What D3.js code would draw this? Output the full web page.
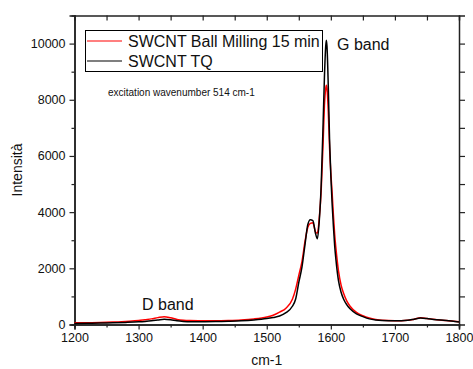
<!DOCTYPE html>
<html>
<head>
<meta charset="utf-8">
<script src="https://cdn.jsdelivr.net/npm/d3@7"></script>
<style>
  body { margin: 0; background: #fff; }
  svg { display: block; font-family: "Liberation Sans", Arial, sans-serif; }
</style>
</head>
<body>
<svg id="chart" width="473" height="369"></svg>
<script>
var W = 473, H = 369
var margin = {left: 74.5, right: 14, top: 15.5, bottom: 44.5}

// wavenumber grid (cm-1)
var wavenumber = [1200,1220,1240,1260,1280,1300,1310,1320,1330,1340,1350,1360,1370,1380,1400,1420,1440,1460,1480,1500,
  1510,1520,1530,1540,1545,1550,1555,1560,1564,1568,1572,1576,1579,1582,1585,1588,1590,1592,1593,1594,1596,1598,
  1600,1602,1604,1606,1608,1612,1616,1620,1625,1630,1640,1650,1660,1670,1680,1700,1720,1730,1740,1750,1760,1780,1800]

// SWCNT TQ (black)
var tq = [40,45,50,60,75,95,110,130,160,190,170,130,110,100,100,105,115,130,160,210,
  250,300,420,650,900,1500,2050,2900,3550,3730,3700,3250,3050,3700,5000,7200,8800,9900,10120,9900,8500,6600,
  5300,4300,3500,2800,2300,1550,1150,900,700,560,380,280,200,160,140,130,150,190,230,210,180,140,90]

// SWCNT Ball Milling 15 min (red)
var ballMilling = [60,65,70,85,110,140,170,200,245,280,240,180,150,140,135,130,140,160,200,270,
  330,440,580,900,1250,1750,2250,3000,3450,3600,3620,3300,3250,3800,4800,6500,7800,8400,8520,8400,7600,6300,
  5400,4700,3900,3200,2700,1900,1400,1100,830,650,430,310,230,180,150,135,155,190,240,215,185,140,95]

var xTicks = [1200,1300,1400,1500,1600,1700,1800]
var yTicks = [0,2000,4000,6000,8000,10000]

var svg = d3.select("#chart")
var x = d3.scaleLinear().domain([1200, 1800]).range([margin.left, W - margin.right])
var y = d3.scaleLinear().domain([0, 11000]).range([H - margin.bottom, margin.top])

var axisColor = "#222"

// bottom axis, major + minor outward
var bottom = svg.append("g").attr("transform", "translate(0," + y(0) + ")")
bottom.call(d3.axisBottom(x).tickValues(d3.range(1250, 1800, 100)).tickSize(3).tickFormat(""))
bottom.append("g").call(d3.axisBottom(x).tickValues(xTicks).tickSize(5).tickPadding(4).tickFormat(d3.format("d")))

// left axis
var left = svg.append("g").attr("transform", "translate(" + x(1200) + ",0)")
left.call(d3.axisLeft(y).tickValues(d3.range(1000, 11000, 2000)).tickSize(3).tickFormat(""))
left.append("g").call(d3.axisLeft(y).tickValues(yTicks).tickSize(5).tickPadding(4).tickFormat(d3.format("d")))

// top axis, ticks inward
svg.append("g").attr("transform", "translate(0," + y(11000) + ")")
  .call(d3.axisTop(x).tickValues(d3.range(1250, 1800, 50)).tickSize(-5).tickFormat(""))

// right axis, ticks outward
svg.append("g").attr("transform", "translate(" + x(1800) + ",0)")
  .call(d3.axisRight(y).tickValues(d3.range(1000, 11000, 1000)).tickSize(6).tickFormat(""))

svg.selectAll(".domain").attr("stroke", axisColor).attr("stroke-width", 1.5)
svg.selectAll(".tick line").attr("stroke", axisColor).attr("stroke-width", 1.2)
svg.selectAll(".tick text").attr("font-size", "12.5px").attr("fill", "#111")
  .attr("font-family", "Liberation Sans, Arial, sans-serif")

var line = d3.line()
  .x(function(d, i) { return x(wavenumber[i]) })
  .y(function(d) { return y(d) })
  .curve(d3.curveMonotoneX)

svg.append("path").datum(ballMilling)
  .attr("d", line).attr("fill", "none").attr("stroke", "#ff0000").attr("stroke-width", 1.5)
svg.append("path").datum(tq)
  .attr("d", line).attr("fill", "none").attr("stroke", "#000").attr("stroke-width", 1.5)

// legend
var legend = svg.append("g")
legend.append("rect").attr("x", 85.5).attr("y", 30.5).attr("width", 237).attr("height", 41)
  .attr("fill", "#fff").attr("stroke", "#000").attr("stroke-width", 1)
var legendItems = [{name: "SWCNT Ball Milling 15 min", color: "#ff0000"}, {name: "SWCNT TQ", color: "#000"}]
legend.selectAll("g.item").data(legendItems).enter().append("g").attr("class", "item")
  .each(function(d, i) {
    var g = d3.select(this)
    var yy = 41 + i * 20
    g.append("line").attr("x1", 87).attr("x2", 122).attr("y1", yy).attr("y2", yy)
      .attr("stroke", d.color).attr("stroke-width", 1.2)
    g.append("text").attr("x", 128).attr("y", yy + 5.5).attr("font-size", "16px").attr("fill", "#111").text(d.name)
  })

// annotations
svg.append("text").attr("x", 108).attr("y", 96).attr("font-size", "10px").attr("fill", "#111")
  .text("excitation wavenumber 514 cm-1")
svg.append("text").attr("x", 337).attr("y", 50).attr("font-size", "16px").attr("fill", "#111").text("G band")
svg.append("text").attr("x", 142).attr("y", 310).attr("font-size", "16px").attr("fill", "#111").text("D band")

// axis titles
svg.append("text").attr("x", (x(1200) + x(1800)) / 2).attr("y", 365).attr("text-anchor", "middle")
  .attr("font-size", "14px").attr("fill", "#111").text("cm-1")
svg.append("text").attr("transform", "translate(22," + (y(5500)) + ") rotate(-90)").attr("text-anchor", "middle")
  .attr("font-size", "14px").attr("fill", "#111").text("Intensità")
</script>
</body>
</html>
